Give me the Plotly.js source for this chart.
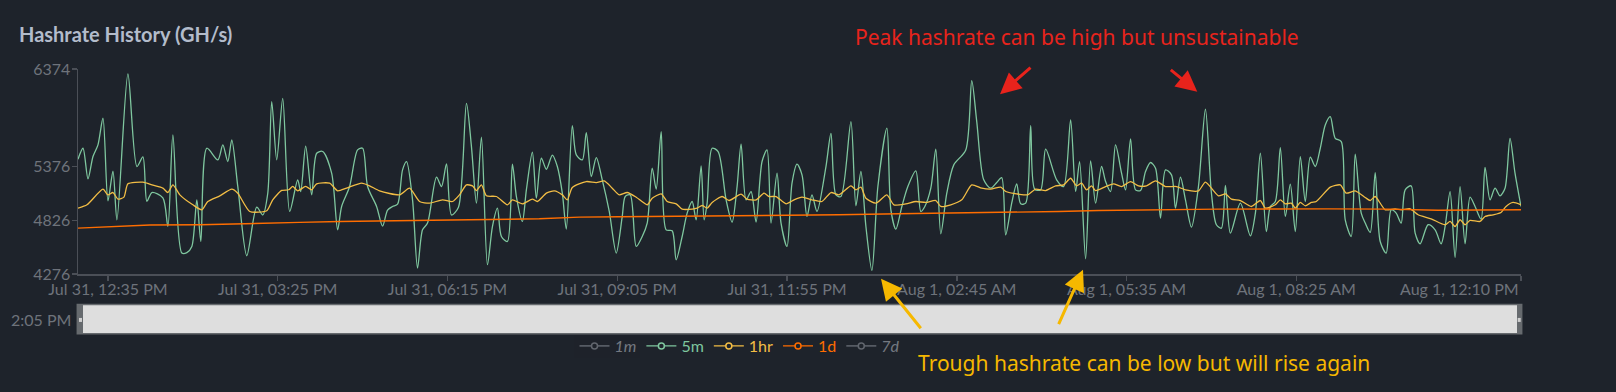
<!DOCTYPE html>
<html>
<head>
<meta charset="utf-8">
<script src="https://cdn.plot.ly/plotly-3.0.1.min.js"></script>
<style>
html,body{margin:0;padding:0;background:#1e232b;}
#chart{width:1616px;height:392px;}
</style>
</head>
<body>
<div id="chart"></div>
<script>
// ---- data (minutes after Jul 31, 12:05 PM) ----
const START = Date.UTC(2024, 6, 31, 12, 5);

const t5m = [0,5,10,15,20,25,30,35,39,50,59,65,69,74,85,90,95,104,109,114,119,123,129,140,145,150,154,160,169,179,185,190,194,199,205,212,220,223,228,234,239,245,254,260,264,272,280,285,290,299,305,310,315,320,325,329,335,340,345,350,359,364,369,374,381,389,394,399,404,410,415,420,424,430,435,439,445,449,455,459,464,469,475,480,485,489,495,499,505,509,514,519,525,532,539,545,548,553,559,565,570,575,579,584,589,595,599,605,610,615,619,624,627,630,635,641,649,655,660,664,669,674,679,685,690,694,700,704,710,715,720,725,730,735,740,749,754,759,764,774,779,784,789,795,801,810,814,819,825,831,839,844,848,854,859,864,870,877,889,895,900,907,914,920,925,929,935,940,944,949,954,958,964,969,980,987,994,999,1003,1009,1014,1019,1025,1029,1034,1039,1045,1049,1054,1059,1064,1069,1074,1079,1084,1089,1095,1099,1104,1109,1115,1122,1129,1135,1140,1145,1149,1154,1164,1174,1179,1184,1190,1194,1199,1204,1209,1214,1219,1224,1229,1234,1239,1244,1249,1254,1259,1265,1269,1275,1279,1285,1289,1294,1299,1304,1310,1315,1320,1325,1329,1335,1339,1344,1352,1359,1365,1369,1374,1379,1384,1389,1394,1399,1405,1409,1414,1419,1424,1429,1434,1439,1445];
const v5m = [5451,5563,5250,5478,5597,5870,5025,5328,4831,6323,5376,5475,5020,5110,5055,4763,5700,4490,4495,4558,5035,4610,5563,5444,5597,5427,5649,5172,4463,4960,4880,5100,6040,5444,6074,4916,5240,5120,5585,5086,5512,5530,5308,4729,4967,5172,5546,5563,5172,4967,4765,4930,4967,4990,5342,5427,5035,4337,4728,4797,5267,5171,5403,4880,4960,6023,5580,5001,5676,4371,4762,4950,4660,4609,5400,5069,4814,5137,5522,5052,5461,5348,5492,5376,5103,4735,5795,5495,5444,5723,5274,5468,5240,4916,4490,4865,5069,5086,4558,4660,4797,5359,5144,5733,4728,4718,4422,4660,4899,5018,4831,5383,4831,5001,5563,5529,5035,4807,5171,5604,5035,5120,4807,5427,5546,4797,5308,4797,4558,5205,5400,5291,4865,5086,4916,5376,5716,5085,5069,5836,4974,5325,4762,4313,5171,5768,4933,4735,4967,5171,5331,4916,4967,5154,5553,4688,5103,5393,5546,6255,5836,5240,5154,5212,5263,4677,5001,5199,4994,5001,5795,5144,5137,5553,5240,5171,5853,5120,5427,4432,5434,5001,5376,5222,5120,5597,5308,5137,5658,5137,5130,5325,5417,5359,4848,5342,5291,4950,5267,5035,4756,5171,5962,5103,4780,4745,5182,4694,5001,4667,4899,5512,4711,4967,5018,5570,4865,5195,4711,5478,5018,5471,5376,5563,5802,5887,5665,5631,4830,4660,5502,4899,4797,4701,5314,4609,4490,4933,4899,4797,5137,5178,4694,4585,4780,4728,4585,4763,5120,4446,5171,4585,5062,4967,4837,5366,5035,5154,5076,5154,5665,5308,4967];

const t1h = [0,9,25,30,35,40,46,50,65,75,85,90,95,102,115,124,130,142,154,160,172,189,195,204,211,215,220,228,234,239,252,260,269,284,292,302,322,332,342,352,365,375,382,389,395,399,404,409,419,430,435,445,455,460,469,477,485,490,495,509,519,527,535,542,550,559,570,575,584,590,599,605,615,620,625,630,635,645,652,664,670,679,687,692,699,709,717,725,735,745,754,762,774,779,784,789,799,810,817,829,839,849,859,864,874,885,895,905,914,924,929,942,951,959,969,979,987,994,1000,1005,1010,1015,1019,1029,1037,1045,1054,1062,1070,1079,1089,1100,1109,1122,1129,1142,1149,1155,1164,1175,1184,1189,1199,1204,1209,1215,1219,1224,1229,1235,1240,1254,1264,1270,1279,1289,1294,1299,1309,1319,1325,1334,1342,1355,1369,1374,1379,1384,1389,1394,1404,1409,1417,1425,1430,1437,1445];
const v1h = [4950,4984,5144,5086,5110,5042,5063,5199,5216,5185,5155,5110,5189,5086,4984,4933,5018,5076,5144,5103,4916,4923,5035,5131,5138,5172,5127,5172,5138,5199,5206,5127,5155,5206,5178,5127,5086,5154,5018,5001,5035,5018,5086,5188,5178,5130,5188,5076,5069,4984,5035,4994,5042,5018,5103,5127,5086,5035,5161,5222,5212,5229,5154,5086,5110,5062,4984,5052,5096,5018,4994,4940,4940,4950,4977,4950,5008,5069,5028,5093,5042,5035,5103,5069,5069,4994,5035,5062,5035,5018,5110,5086,5178,5137,5165,5052,5001,5086,4984,4994,5018,5008,5028,4967,4984,5035,5188,5154,5144,5165,5120,5093,5086,5144,5130,5178,5188,5256,5178,5205,5137,5178,5130,5171,5199,5171,5222,5178,5178,5229,5171,5171,5137,5127,5216,5076,5096,5042,5028,4967,5028,4950,4984,5035,4994,5001,4950,5008,4974,5008,5018,5165,5188,5103,5127,5059,5028,5069,4933,4943,4933,4943,4882,4841,4780,4814,4762,4831,4780,4824,4814,4865,4882,4906,4967,5008,4984];

const t1d = [0,22,47,72,122,162,222,262,302,322,362,392,462,502,542,582,622,682,722,762,822,882,922,982,1022,1092,1142,1252,1312,1362,1422,1445];
const v1d = [4746,4756,4770,4777,4780,4787,4804,4814,4821,4824,4824,4831,4841,4858,4862,4865,4868,4872,4875,4882,4892,4899,4909,4916,4926,4933,4940,4943,4940,4928,4933,4933];

// 1m and 7d series are hidden (legend only) in the reference: no values visible
const t1m = [0], v1m = [null];
const t7d = [0], v7d = [null];

const yTicks = [4276, 4826, 5376, 6374];
const xTickTimes = ['2024-07-31 12:35','2024-07-31 15:25','2024-07-31 18:15','2024-07-31 21:05','2024-07-31 23:55','2024-08-01 02:45','2024-08-01 05:35','2024-08-01 08:25','2024-08-01 12:10'];
const xTickLabels = ['Jul 31, 12:35 PM','Jul 31, 03:25 PM','Jul 31, 06:15 PM','Jul 31, 09:05 PM','Jul 31, 11:55 PM','Aug 1, 02:45 AM','Aug 1, 05:35 AM','Aug 1, 08:25 AM',''];
const lastTickLabel = 'Aug 1, 12:10 PM';
const xRange = ['2024-07-31 12:05','2024-08-01 12:10'];

// ---- helpers ----
function toTime(m){ return new Date(START + m*60000).toISOString().slice(0,19).replace('T',' '); }

const BG = '#1e232b';
const C5M = '#7fc79f', C1H = '#f2bd45', C1D = '#ff6d00', CGREY = '#a3a8b0';

function legendMarker(c){ return {symbol:'circle', size:6, color:BG, line:{color:c, width:1.5}}; }
const hideMarkers = {selectedpoints: [], unselected:{marker:{opacity:0}}};

const traces = [
  {name:'<i>1m</i>', x:t1m.map(toTime), y:v1m, type:'scatter', mode:'lines+markers', visible:'legendonly',
   line:{color:CGREY, width:1.5}, marker:legendMarker(CGREY)},
  Object.assign({name:'<span style="color:'+C5M+'">5m</span>', x:t5m.map(toTime), y:v5m, type:'scatter', mode:'lines+markers',
   line:{color:C5M, width:1.3, shape:'spline', smoothing:0.8}, marker:legendMarker(C5M)}, hideMarkers),
  Object.assign({name:'<span style="color:'+C1H+'">1hr</span>', x:t1h.map(toTime), y:v1h, type:'scatter', mode:'lines+markers',
   line:{color:C1H, width:1.3, shape:'spline', smoothing:0.6}, marker:legendMarker(C1H)}, hideMarkers),
  Object.assign({name:'<span style="color:'+C1D+'">1d</span>', x:t1d.map(toTime), y:v1d, type:'scatter', mode:'lines+markers',
   line:{color:C1D, width:1.4}, marker:legendMarker(C1D)}, hideMarkers),
  {name:'<i>7d</i>', x:t7d.map(toTime), y:v7d, type:'scatter', mode:'lines+markers', visible:'legendonly',
   line:{color:CGREY, width:1.5}, marker:legendMarker(CGREY)}
];

const AX = '#4b4f57', TICK = '#6e737b';
const tickFont = {family:'Lato, sans-serif', size:16, color:TICK};

function arrow(x, y, ax, ay, color){
  return {xref:'paper', yref:'paper', x:x, y:y, ax:ax, ay:ay, axref:'pixel', ayref:'pixel',
    text:'', showarrow:true, arrowhead:2, arrowsize:1.4, arrowwidth:3, arrowcolor:color, standoff:0, startstandoff:0};
}

const layout = {
  width:1616, height:392,
  paper_bgcolor:BG, plot_bgcolor:BG,
  margin:{l:78, r:95, t:69, b:118},
  title:{text:'Hashrate History (GH/s)', xref:'container', yref:'container', x:19/1616, xanchor:'left',
         y:1-35/392, yanchor:'middle', font:{family:'Lato, sans-serif', size:20, weight:700, color:'#b3bccb'}},
  showlegend:true,
  legend:{orientation:'h', xref:'container', yref:'container', x:740/1616, xanchor:'center', y:1-346/392, yanchor:'middle',
          font:{family:'Lato, sans-serif', size:16, color:'#c9ced6'}, bgcolor:'rgba(0,0,0,0)', itemclick:false},
  xaxis:{type:'date', range:xRange, showgrid:false, zeroline:false, showline:true, linecolor:AX, linewidth:1.5,
         ticks:'outside', ticklen:5, tickcolor:AX, tickwidth:1.5, tickmode:'array', tickvals:xTickTimes, ticktext:xTickLabels,
         ticklabelstandoff:-5, tickfont:tickFont, fixedrange:true},
  yaxis:{range:[yTicks[0], yTicks[yTicks.length-1]], showgrid:false, zeroline:false, showline:true, linecolor:AX, linewidth:1.5,
         ticks:'outside', ticklen:5, tickcolor:AX, tickwidth:1.5, tickmode:'array', tickvals:yTicks, ticktext:yTicks.map(String),
         ticklabelstandoff:-2, tickfont:tickFont, fixedrange:true},
  shapes:[
    {type:'rect', xref:'paper', yref:'paper', x0:-0.001, x1:1.001, y0:(274.3-335)/205.3, y1:(274.3-304)/205.3,
     fillcolor:'#666a6e', line:{width:0}, layer:'above'},
    {type:'rect', xref:'paper', yref:'paper', x0:(83-78)/1443, x1:(1517-78)/1443, y0:(274.3-333.3)/205.3, y1:(274.3-305.7)/205.3,
     fillcolor:'#dedede', line:{width:0}, layer:'above'},
    {type:'rect', xref:'paper', yref:'paper', x0:(79-78)/1443, x1:(82-78)/1443, y0:(274.3-322.3)/205.3, y1:(274.3-318.3)/205.3,
     fillcolor:'#cfcfcf', line:{width:0}, layer:'above'},
    {type:'rect', xref:'paper', yref:'paper', x0:(1517.7-78)/1443, x1:(1520.7-78)/1443, y0:(274.3-322.3)/205.3, y1:(274.3-318.3)/205.3,
     fillcolor:'#cfcfcf', line:{width:0}, layer:'above'}
  ],
  annotations:[
    {xref:'paper', yref:'paper', x:1, y:(274.3-289)/205.3, xanchor:'right', yanchor:'middle', text:lastTickLabel,
     showarrow:false, font:tickFont},
    {xref:'paper', yref:'paper', x:(73-78)/1443, y:(274.3-320)/205.3, xanchor:'right', yanchor:'middle', text:'2:05 PM',
     showarrow:false, font:tickFont},
    {xref:'paper', yref:'paper', x:(853-78)/1443, y:(274.3-37)/205.3, xanchor:'left', yanchor:'middle',
     text:'Peak hashrate can be high but unsustainable', showarrow:false,
     font:{family:'Noto Sans, sans-serif', size:21, color:'#e8231c'}},
    {xref:'paper', yref:'paper', x:(916-78)/1443, y:(274.3-363)/205.3, xanchor:'left', yanchor:'middle',
     text:'Trough hashrate can be low but will rise again', showarrow:false,
     font:{family:'Noto Sans, sans-serif', size:21, color:'#f6b800'}},
    arrow((1000-78)/1443, (274.3-94.3)/205.3, 32, -28, '#e8231c'),
    arrow((1197.3-78)/1443, (274.3-91.7)/205.3, -28, -23, '#e8231c'),
    arrow((881-78)/1443, (274.3-279)/205.3, 41, 51, '#f6b800'),
    arrow((1083-78)/1443, (274.3-270)/205.3, -25, 56, '#f6b800')
  ]
};

Plotly.newPlot('chart', traces, layout, {displayModeBar:false, staticPlot:true});
</script>
</body>
</html>
